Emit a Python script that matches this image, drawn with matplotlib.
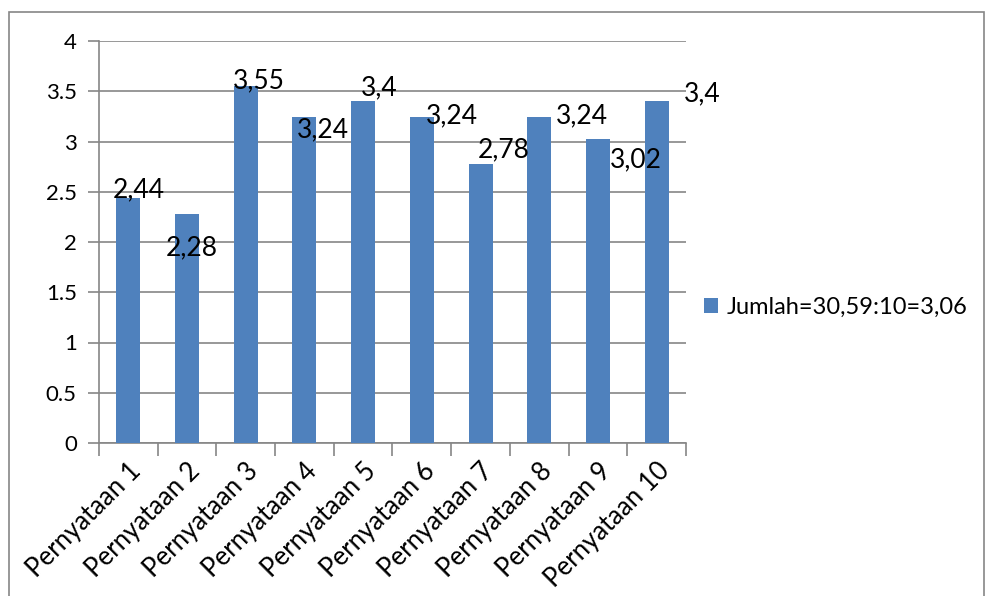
import matplotlib
matplotlib.use("Agg")
import matplotlib.pyplot as plt
from matplotlib.patches import Rectangle, Patch

categories = ["Pernyataan 1", "Pernyataan 2", "Pernyataan 3", "Pernyataan 4", "Pernyataan 5",
              "Pernyataan 6", "Pernyataan 7", "Pernyataan 8", "Pernyataan 9", "Pernyataan 10"]
values = [2.44, 2.28, 3.55, 3.24, 3.40, 3.24, 2.78, 3.24, 3.02, 3.40]
value_labels = ["2,44", "2,28", "3,55", "3,24", "3,4", "3,24", "2,78", "3,24", "3,02", "3,4"]
series_name = "Jumlah=30,59:10=3,06"
yticks = [0, 0.5, 1, 1.5, 2, 2.5, 3, 3.5, 4]
ytick_labels = ["0", "0.5", "1", "1.5", "2", "2.5", "3", "3.5", "4"]

# label placement offsets (layout, in data units; baseline relative to bar top)
label_dx = [0.17, 0.085, 0.22, 0.32, 0.27, 0.51, 0.39, 0.72, 0.65, 0.78]
label_dy = [0.008, -0.41, -0.018, -0.195, 0.063, -0.056, 0.066, -0.056, -0.274, 0.003]

plt.rcParams['font.family'] = ['Lato', 'DejaVu Sans']
BLUE = "#4F81BD"
GRID = "#868686"

fig = plt.figure(figsize=(9.87, 5.96), dpi=100)
ax = fig.add_axes([99/987, (596-443)/596, (686-99)/987, (443-41)/596])

x = list(range(len(categories)))
ax.bar(x, values, width=0.41, color=BLUE, zorder=3)

ax.set_xlim(-0.5, len(categories)-0.5)
ax.set_ylim(0, 4)
ax.set_yticks(yticks)
ax.set_yticklabels(ytick_labels, fontsize=16)
ax.yaxis.grid(True, color=GRID, linewidth=1.2, zorder=0)
ax.tick_params(axis='y', length=8, color=GRID, width=1.2, pad=8)

ax.set_xticks(x)
ax.set_xticklabels(categories, rotation=45, ha='right', rotation_mode='anchor', fontsize=18.5)
ax.tick_params(axis='x', length=0, pad=11)
ax.set_xticks([i - 0.5 for i in range(len(categories)+1)], minor=True)
ax.tick_params(axis='x', which='minor', length=9, color=GRID, width=1.2)

for s in ['top', 'right']:
    ax.spines[s].set_visible(False)
for s in ['left', 'bottom']:
    ax.spines[s].set_color(GRID)
    ax.spines[s].set_linewidth(1.2)

for i, (v, lab) in enumerate(zip(values, value_labels)):
    ax.text(i + label_dx[i], v + label_dy[i], lab, ha='center', va='baseline',
            fontsize=19, color='black', zorder=4, clip_on=False)

fig.legend(handles=[Patch(facecolor=BLUE, label=series_name)],
           loc='center left', bbox_to_anchor=(704/987, 1-307/596), frameon=False,
           fontsize=17, handlelength=0.6, handleheight=0.6, handletextpad=0.35,
           borderaxespad=0, borderpad=0)

fig.patches.append(Rectangle((9/987, -0.05), (984-9)/987, 1.05 - 12/596,
                             transform=fig.transFigure, fill=False,
                             edgecolor=GRID, linewidth=1.2))

fig.savefig("out.png", dpi=100)
